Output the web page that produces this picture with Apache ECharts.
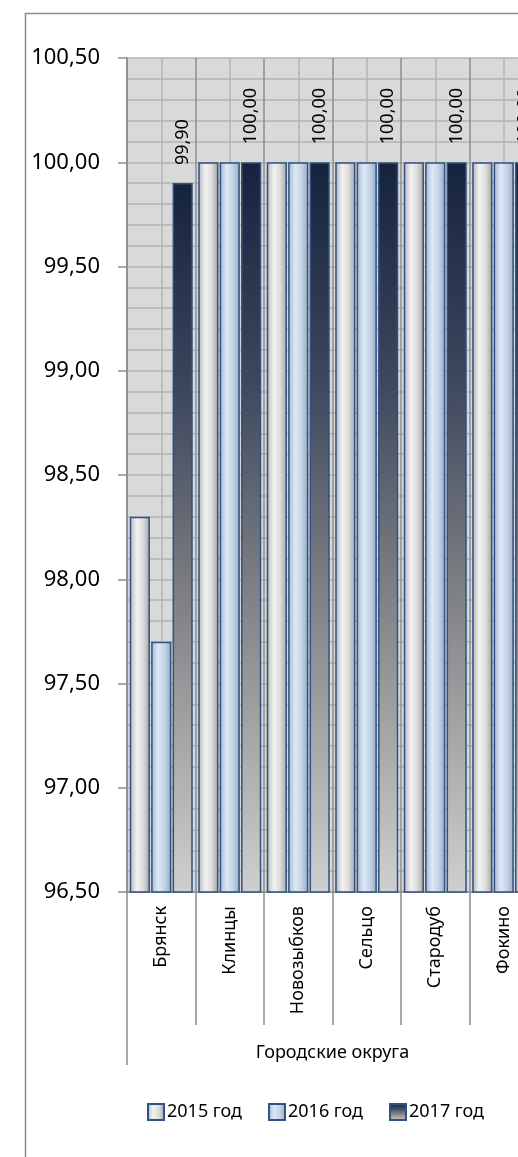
<!DOCTYPE html>
<html><head><meta charset="utf-8">
<script src="https://cdn.jsdelivr.net/npm/echarts@6/dist/echarts.min.js"></script>
<style>html,body{margin:0;padding:0;background:#fff;overflow:hidden;width:518px;height:1157px}#c{width:540px;height:1157px}</style>
</head><body><div id="c"></div>
<script>
var categories = ['Брянск', 'Клинцы', 'Новозыбков', 'Сельцо', 'Стародуб', 'Фокино'];
var groupName = ['Городские округа'];
var seriesNames = ['2015 год', '2016 год', '2017 год'];
var values2015 = [98.30, 100.00, 100.00, 100.00, 100.00, 100.00];
var values2016 = [97.70, 100.00, 100.00, 100.00, 100.00, 100.00];
var values2017 = [99.90, 100.00, 100.00, 100.00, 100.00, 100.00];
var yMin = 96.5, yMax = 100.5, yStep = 0.5;

var FONT = 'Noto Sans';
function fmt(v){ return Number(v).toFixed(2).replace('.', ','); }
var halfCats = [];
categories.forEach(function(c){ halfCats.push(c + '_a'); halfCats.push(c + '_b'); });

var border = '#2f5283';
var chart = echarts.init(document.getElementById('c'), null, {renderer:'canvas'});
chart.setOption({
  animation: false,
  textStyle: {fontFamily: FONT},
  graphic: [{
    type: 'rect', left: 23, top: 11, z: -10,
    shape: {width: 600, height: 1300},
    style: {fill: 'none', stroke: '#8c8c8c', lineWidth: 1.5}
  }],
  grid: {left: 127, top: 58, bottom: 265, right: 2, backgroundColor: '#d9d9d9', show: true, borderWidth: 0},
  legend: {
    data: seriesNames, left: 142, top: 1098, itemWidth: 16, itemHeight: 16, itemGap: 26,
    icon: 'rect',
    textStyle: {fontFamily: FONT, fontSize: 18, color: '#000', padding: [0,0,0,-2]}
  },
  xAxis: [{
    type: 'category', data: categories, position: 'bottom',
    axisLine: {lineStyle: {color: '#8c8c8c', width: 1.5}},
    axisTick: {show: true, alignWithLabel: false, length: 133, lineStyle: {color: '#8c8c8c', width: 1.5}},
    axisLabel: {interval: 0, rotate: 90, margin: 14, fontFamily: FONT, fontSize: 18, color: '#000'},
    splitLine: {show: true, interval: 0, lineStyle: {color: '#8c8c8c', width: 1.5}}
  }, {
    type: 'category', data: groupName, position: 'bottom', offset: 133,
    axisLine: {show: false},
    axisTick: {show: true, length: 40, lineStyle: {color: '#8c8c8c', width: 1.5}},
    axisLabel: {margin: 19, fontFamily: FONT, fontSize: 18, color: '#000'},
    splitLine: {show: false}
  }, {
    type: 'category', data: halfCats, position: 'top', show: true,
    axisLine: {show: false}, axisTick: {show: false}, axisLabel: {show: false},
    splitLine: {show: true, interval: function(i){ return i % 2 === 1; }, lineStyle: {color: '#b3b3b3', width: 1.5}}
  }],
  yAxis: {
    type: 'value', min: yMin, max: yMax, interval: yStep,
    axisLine: {show: true, lineStyle: {color: '#8c8c8c', width: 1.5}},
    axisTick: {show: true, length: 9, lineStyle: {color: '#8c8c8c', width: 1.5}},
    axisLabel: {formatter: fmt, margin: 27, fontFamily: FONT, fontSize: 22, color: '#000'},
    splitLine: {show: true, lineStyle: {color: '#b3b3b3', width: 1.5}},
    minorTick: {show: false, splitNumber: 5},
    minorSplitLine: {show: true, lineStyle: {color: '#b3b3b3', width: 1.5}}
  },
  series: [{
    name: seriesNames[0], type: 'bar', data: values2015, barGap: '6%', barCategoryGap: '8%',
    itemStyle: {
      borderColor: border, borderWidth: 1.5,
      color: new echarts.graphic.LinearGradient(0,0,1,0,[
        {offset:0, color:'#b4b4b4'},{offset:0.35, color:'#f2f2f2'},{offset:0.65, color:'#dedede'},{offset:1, color:'#a4a4a4'}])
    }
  }, {
    name: seriesNames[1], type: 'bar', data: values2016, barGap: '6%', barCategoryGap: '8%',
    itemStyle: {
      borderColor: border, borderWidth: 1.5,
      color: new echarts.graphic.LinearGradient(0,0,1,0,[
        {offset:0, color:'#a2b5d0'},{offset:0.35, color:'#dde8f6'},{offset:0.65, color:'#c6d4e8'},{offset:1, color:'#97a9c2'}])
    }
  }, {
    name: seriesNames[2], type: 'bar', data: values2017, barGap: '6%', barCategoryGap: '8%',
    itemStyle: {
      borderColor: border, borderWidth: 1.5,
      color: new echarts.graphic.LinearGradient(0,0,0,1,[
        {offset:0, color:'#16233d'},{offset:0.3, color:'#3d475e'},{offset:0.55, color:'#77797f'},{offset:0.8, color:'#a9a9a9'},{offset:1, color:'#cfcfcf'}])
    },
    label: {
      show: true, position: 'top', rotate: 90, align: 'left', verticalAlign: 'middle', distance: 18,
      formatter: function(p){ return fmt(p.value); },
      fontFamily: FONT, fontSize: 18, color: '#000'
    }
  }]
});
</script></body></html>
